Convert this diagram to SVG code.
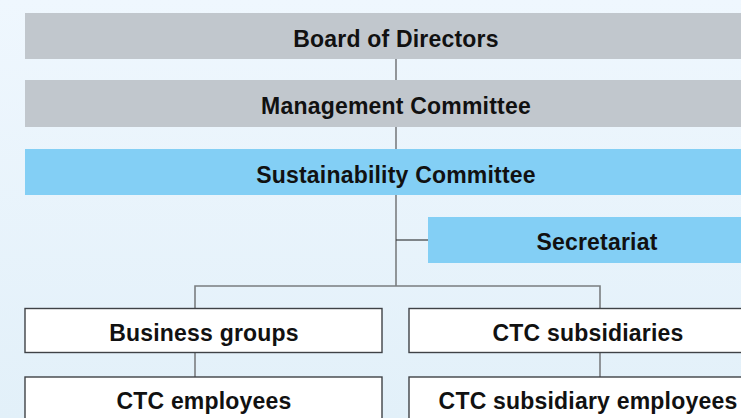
<svg xmlns="http://www.w3.org/2000/svg" width="741" height="418" viewBox="0 0 741 418">
  <defs>
    <linearGradient id="bg" x1="0" y1="0" x2="0" y2="1">
      <stop offset="0" stop-color="#eff7fe"/>
      <stop offset="1" stop-color="#e2f0f9"/>
    </linearGradient>
    <style>
      .grey { fill: #c1c7cd; }
      .blue { fill: #83cff5; }
      .white { fill: #ffffff; stroke: #3f4246; stroke-width: 1.4; }
      .lbl { font-family: "Liberation Sans", Arial, sans-serif; font-weight: bold; font-size: 23px; letter-spacing: 0.2px; fill: #111111; text-anchor: middle; }
      .conn { stroke: #7a7d80; stroke-width: 1.6; fill: none; }
      .conn-dark { stroke: #3a3c3e; stroke-width: 1.2; fill: none; }
    </style>
  </defs>

  <rect x="0" y="0" width="741" height="418" fill="url(#bg)"/>

  <!-- connectors -->
  <g id="connectors">
    <line class="conn" x1="396" y1="59" x2="396" y2="80"/>
    <line class="conn" x1="396" y1="127" x2="396" y2="149"/>
    <line class="conn" x1="396" y1="195" x2="396" y2="286"/>
    <line class="conn-dark" x1="396" y1="240" x2="428" y2="240"/>
    <polyline class="conn" points="195,308 195,286 600,286 600,308"/>
    <line class="conn" x1="195" y1="353" x2="195" y2="377"/>
    <line class="conn" x1="600" y1="353" x2="600" y2="377"/>
  </g>

  <g id="board">
    <rect class="grey" x="25" y="13" width="730" height="46"/>
    <text class="lbl" x="396" y="46.5">Board of Directors</text>
  </g>

  <g id="management">
    <rect class="grey" x="25" y="80" width="730" height="47"/>
    <text class="lbl" x="396" y="113.5">Management Committee</text>
  </g>

  <g id="sustainability">
    <rect class="blue" x="25" y="149" width="730" height="46"/>
    <text class="lbl" x="396" y="182.5">Sustainability Committee</text>
  </g>

  <g id="secretariat">
    <rect class="blue" x="428" y="217" width="320" height="46"/>
    <text class="lbl" x="597" y="249.5">Secretariat</text>
  </g>

  <g id="business-groups">
    <rect class="white" x="25" y="308.5" width="357" height="44"/>
    <text class="lbl" x="204" y="340.5">Business groups</text>
  </g>

  <g id="ctc-subsidiaries">
    <rect class="white" x="409" y="308.5" width="345" height="44"/>
    <text class="lbl" x="588" y="340.5">CTC subsidiaries</text>
  </g>

  <g id="ctc-employees">
    <rect class="white" x="25" y="377" width="357" height="50"/>
    <text class="lbl" x="204" y="408.5">CTC employees</text>
  </g>

  <g id="ctc-subsidiary-employees">
    <rect class="white" x="409" y="377" width="345" height="50"/>
    <text class="lbl" x="588" y="408.5">CTC subsidiary employees</text>
  </g>
</svg>
